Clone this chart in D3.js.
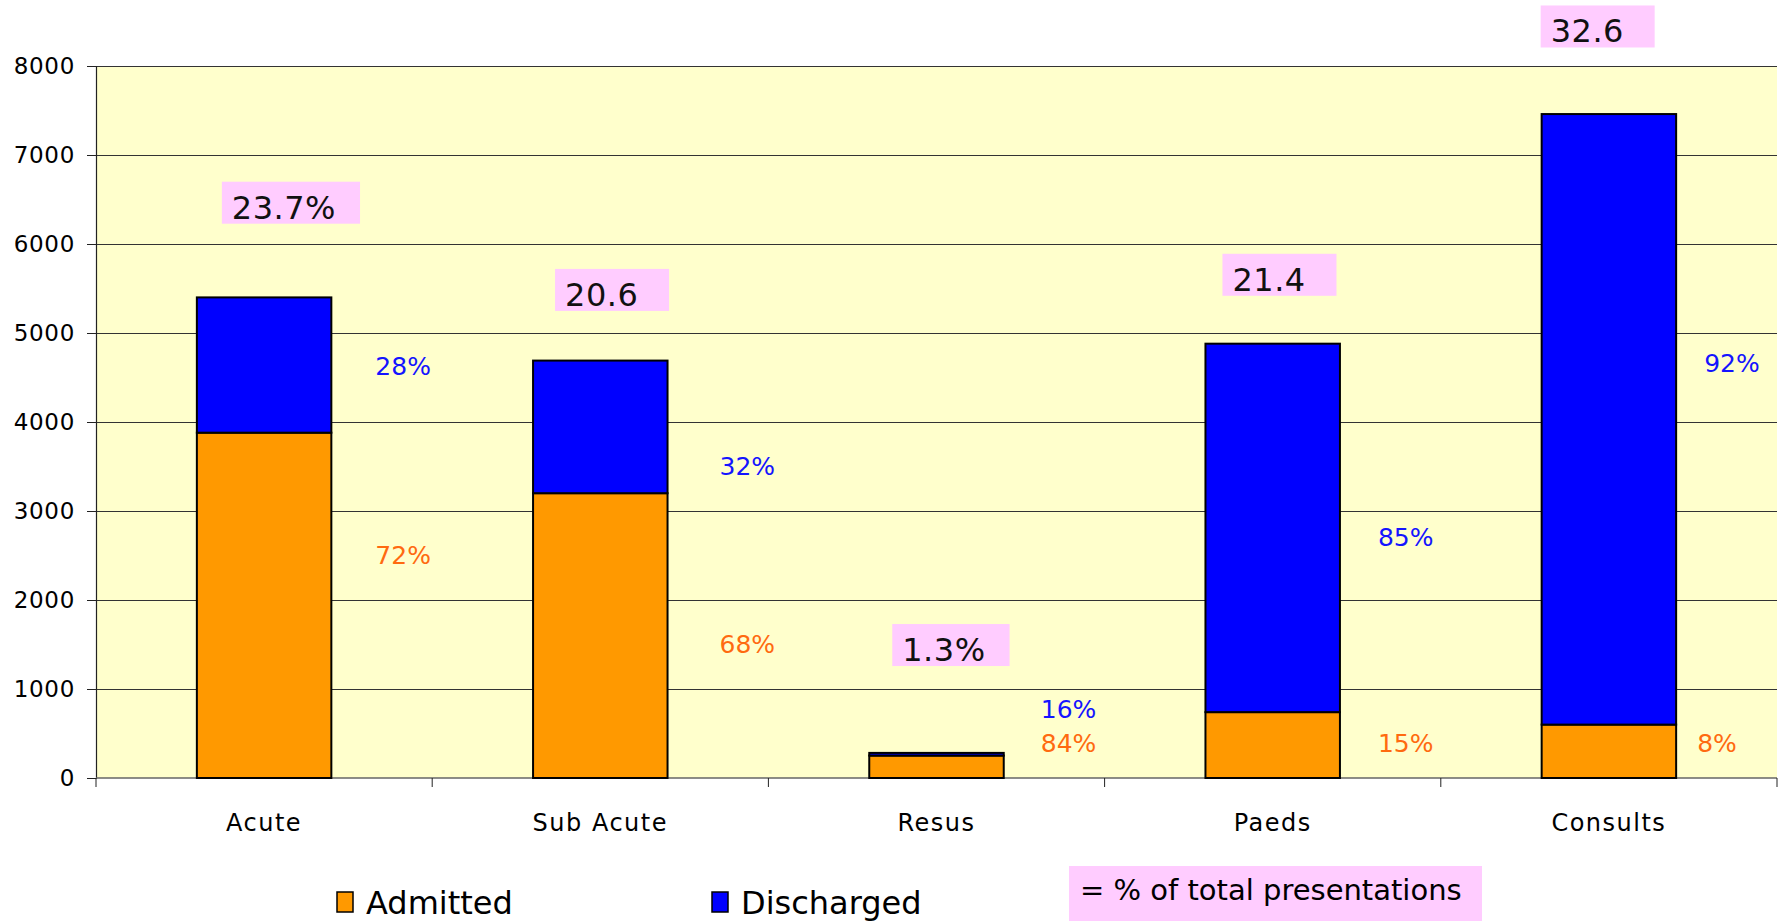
<!DOCTYPE html>
<html>
<head>
<meta charset="utf-8">
<script src="https://cdn.jsdelivr.net/npm/d3@7"></script>
<style>
  body { margin: 0; background: #fff; }
  svg { display: block; font-family: "DejaVu Sans", Verdana, sans-serif; }
</style>
</head>
<body>
<div id="chart"></div>
<script>
// chart data
const categories = ["Acute", "Sub Acute", "Resus", "Paeds", "Consults"];
const admitted   = [3880, 3200, 252, 740, 600];
const discharged = [1520, 1490, 30, 4140, 6860];
const admittedPct   = ["72%", "68%", "84%", "15%", "8%"];
const dischargedPct = ["28%", "32%", "16%", "85%", "92%"];
const sharePct = ["23.7%", "20.6", "1.3%", "21.4", "32.6"];
const yTicks = [0, 1000, 2000, 3000, 4000, 5000, 6000, 7000, 8000];

// where the hand placed text boxes sit, in data units (y)
const dischargedLabelAt = [4630, 3500, 775, 2700, 4660];
const admittedLabelAt   = [2500, 1500, 393, 393, 393];
const shareBoxTop       = [6700, 5720, 1730, 5890, 8680];
const labelDx  = [44, 52, 37, 38, 28];   // gap right of bar
const boxDx    = [25, 22, 23, 17, -1];   // box left vs bar left

const width = 1787, height = 923;
const margin = { left: 96, right: 10, top: 66, bottom: 145 };

const svg = d3.select("#chart").append("svg")
    .attr("width", width)
    .attr("height", height);

svg.append("rect").attr("width", width).attr("height", height).attr("fill", "#fff");

const x = d3.scaleBand()
    .domain(categories)
    .range([margin.left, width - margin.right])
    .paddingInner(0.6)
    .paddingOuter(0.3);

const y = d3.scaleLinear()
    .domain([0, 8000])
    .range([height - margin.bottom, margin.top]);

// plot background
svg.append("rect")
    .attr("x", margin.left)
    .attr("y", y(8000))
    .attr("width", width - margin.right - margin.left)
    .attr("height", y(0) - y(8000))
    .attr("fill", "#FFFFCC");

// gridlines
svg.append("g")
    .attr("transform", `translate(${margin.left},0)`)
    .call(d3.axisLeft(y).tickValues(yTicks.slice(1)).tickSize(-(width - margin.right - margin.left)).tickFormat(""))
    .call(g => g.select(".domain").remove())
    .call(g => g.selectAll("line").attr("stroke", "#333").attr("stroke-width", 1.2));

// y axis
svg.append("g")
    .attr("transform", `translate(${margin.left},0)`)
    .call(d3.axisLeft(y).tickValues(yTicks).tickSize(9).tickPadding(12).tickFormat(d3.format("d")))
    .call(g => g.select(".domain").attr("stroke", "#222").attr("stroke-width", 1.2))
    .call(g => g.selectAll("line").attr("stroke", "#222"))
    .call(g => g.selectAll("text")
        .attr("font-size", 23)
        .attr("letter-spacing", 0.7)
        .attr("fill", "#000")
        .attr("font-family", "DejaVu Sans, sans-serif"));

// x axis line and category boundary ticks
const x0 = margin.left, x1 = width - margin.right;
svg.append("line")
    .attr("x1", x0).attr("x2", x1)
    .attr("y1", y(0)).attr("y2", y(0))
    .attr("stroke", "#666").attr("stroke-width", 1.5);

svg.append("g").selectAll("line")
    .data(d3.range(categories.length + 1))
    .join("line")
    .attr("x1", i => x0 + i * x.step())
    .attr("x2", i => x0 + i * x.step())
    .attr("y1", y(0))
    .attr("y2", y(0) + 9)
    .attr("stroke", "#222");

svg.append("g").selectAll("text")
    .data(categories)
    .join("text")
    .attr("x", d => x(d) + x.bandwidth() / 2)
    .attr("y", y(0) + 53)
    .attr("text-anchor", "middle")
    .attr("font-size", 24)
    .attr("letter-spacing", 1.5)
    .text(d => d);

// stacked bars
const rows = categories.map((c, i) => ({ cat: c, adm: admitted[i], dis: discharged[i], i }));

svg.append("g").selectAll("rect")
    .data(rows)
    .join("rect")
    .attr("x", d => x(d.cat))
    .attr("width", x.bandwidth())
    .attr("y", d => y(d.adm))
    .attr("height", d => y(0) - y(d.adm))
    .attr("fill", "#FF9900")
    .attr("stroke", "#000")
    .attr("stroke-width", 2);

svg.append("g").selectAll("rect")
    .data(rows)
    .join("rect")
    .attr("x", d => x(d.cat))
    .attr("width", x.bandwidth())
    .attr("y", d => y(d.adm + d.dis))
    .attr("height", d => y(d.adm) - y(d.adm + d.dis))
    .attr("fill", "#0000FF")
    .attr("stroke", "#000")
    .attr("stroke-width", 2);

// percentage labels beside the bars
svg.append("g").selectAll("text")
    .data(rows)
    .join("text")
    .attr("x", d => x(d.cat) + x.bandwidth() + labelDx[d.i])
    .attr("y", d => y(dischargedLabelAt[d.i]))
    .attr("dy", "0.35em")
    .attr("font-size", 25)
    .attr("fill", "#1414FF")
    .text(d => dischargedPct[d.i]);

svg.append("g").selectAll("text")
    .data(rows)
    .join("text")
    .attr("x", d => x(d.cat) + x.bandwidth() + labelDx[d.i] - (d.i === 4 ? 7 : 0))
    .attr("y", d => y(admittedLabelAt[d.i]))
    .attr("dy", "0.35em")
    .attr("font-size", 25)
    .attr("fill", "#FF6A10")
    .text(d => admittedPct[d.i]);

// pink share boxes
const boxes = svg.append("g").selectAll("g")
    .data(rows)
    .join("g")
    .attr("transform", d => `translate(${x(d.cat) + boxDx[d.i]},${y(shareBoxTop[d.i])})`);

boxes.append("rect")
    .attr("height", 42)
    .attr("fill", "#FFCCFF");

boxes.append("text")
    .attr("x", 10)
    .attr("y", 37)
    .attr("font-size", 32)
    .attr("letter-spacing", 0.5)
    .attr("fill", "#111")
    .text(d => sharePct[d.i]);

boxes.each(function () {
    const g = d3.select(this);
    const w = g.select("text").node().getComputedTextLength();
    g.select("rect").attr("width", Math.max(114, w + 34));
});

// legend
const legendItems = [
    { name: "Admitted", color: "#FF9900", x: 337 },
    { name: "Discharged", color: "#0000FF", x: 712 }
];

const legend = svg.append("g").selectAll("g")
    .data(legendItems)
    .join("g")
    .attr("transform", d => `translate(${d.x},892)`);

legend.append("rect")
    .attr("width", 16)
    .attr("height", 20)
    .attr("fill", d => d.color)
    .attr("stroke", "#000")
    .attr("stroke-width", 1.5);

legend.append("text")
    .attr("x", 29)
    .attr("y", 22)
    .attr("font-size", 32)
    .text(d => d.name);

const note = svg.append("g").attr("transform", "translate(1069,866)");
note.append("rect").attr("width", 413).attr("height", 55).attr("fill", "#FFCCFF");
note.append("text")
    .attr("x", 11)
    .attr("y", 34)
    .attr("font-size", 29)
    .text("= % of total presentations");
</script>
</body>
</html>
